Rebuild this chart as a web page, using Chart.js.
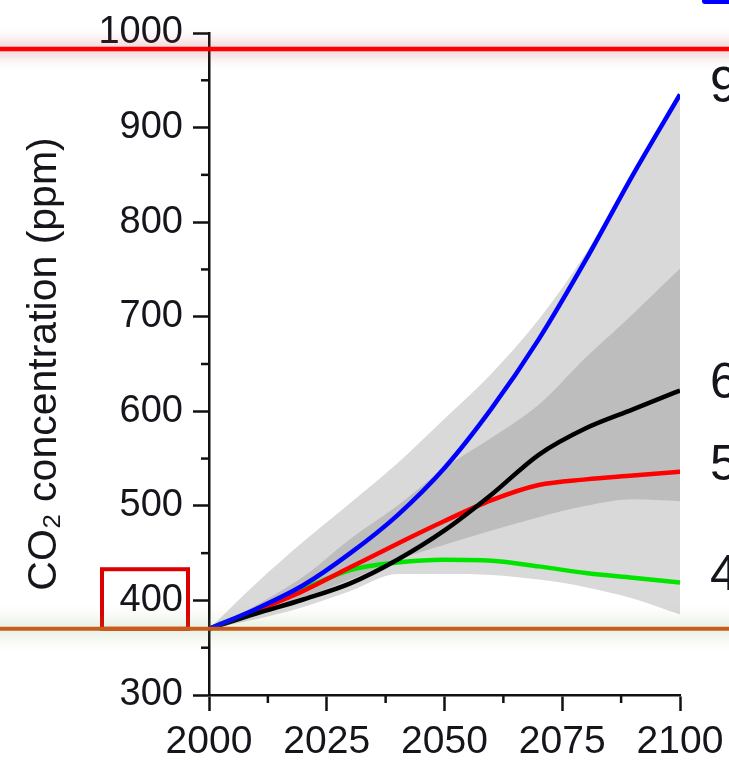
<!DOCTYPE html>
<html>
<head>
<meta charset="utf-8">
<title>CO2 concentration</title>
<script src="https://cdn.jsdelivr.net/npm/chart.js@4.4.0/dist/chart.umd.min.js"></script>
<style>
  html, body { margin: 0; padding: 0; background: #fff; }
  #wrap { width: 729px; height: 763px; }
</style>
</head>
<body>
<div id="wrap"><canvas id="myChart" width="729" height="763"></canvas></div>
<script>
// years on the x axis (every 10 years)
const years = [2000, 2010, 2020, 2030, 2040, 2050, 2060, 2070, 2080, 2090, 2100];

// scenario lines (ppm)
const rcp85 = [370, 391, 416, 450, 490, 540, 603, 676, 760, 850, 935];
const rcp60 = [370, 386, 401, 418, 443, 474, 512, 554, 582, 602, 622];
const rcp45 = [370, 389, 410, 435, 460, 484, 506, 522, 528, 532, 536];
const rcp26 = [370, 390, 412, 432, 440, 443, 442, 436, 429, 424, 419];

// shaded ranges
const lightUpper = [370, 418, 462, 503, 545, 592, 640, 697, 767, 852, 936];
const lightLower = [370, 380, 393, 410, 428, 428, 427, 422, 414, 402, 385];
const darkUpper  = [370, 395, 425, 465, 500, 540, 572, 607, 657, 703, 751];
const darkLower  = [370, 387, 403, 422, 443, 459, 474, 488, 500, 507, 505];

// labels at the right end (cut by the picture edge)
const endLabels = ['936', '670', '538', '421'];

// ticks
const yMajor = [300, 400, 500, 600, 700, 800, 900, 1000];
const yMinor = [350, 450, 550, 650, 750, 850, 950];
const xMinor = [2012.5, 2037.5, 2062.5, 2087.5];

// highlight lines + box
const redLineValue = 983;
const orangeLineValue = 370;
const boxTopValue = 433;

const fontFam = '"Liberation Sans", Arial, Helvetica, sans-serif';
const txtColor = '#15151c';

function pts(arr) {
  return years.map(function (yr, i) { return { x: yr, y: arr[i] }; });
}

function lineSet(label, data, color) {
  return {
    label: label, data: pts(data), borderColor: color, borderWidth: 4.5,
    fill: false, pointRadius: 0, order: 0
  };
}

function bandSet(data, color, fill, order) {
  return {
    data: pts(data), borderWidth: 0, borderColor: 'rgba(0,0,0,0)',
    backgroundColor: color, fill: fill, pointRadius: 0, order: order
  };
}

const datasets = [
  lineSet('RCP8.5', rcp85, '#0000ff'),
  lineSet('RCP6.0', rcp60, '#000000'),
  lineSet('RCP4.5', rcp45, '#ff0000'),
  lineSet('RCP2.6', rcp26, '#00e400'),
  bandSet(darkUpper, '#bdbdbd', '+1', 1),
  bandSet(darkLower, '#bdbdbd', false, 1),
  bandSet(lightUpper, '#d9d9d9', '+1', 2),
  bandSet(lightLower, '#d9d9d9', false, 2)
];

// minor ticks, right labels, highlight lines
const extras = {
  id: 'extras',
  afterDraw: function (chart) {
    const ctx = chart.ctx;
    const xs = chart.scales.x, ys = chart.scales.y;
    const area = chart.chartArea;
    ctx.save();

    // minor ticks
    ctx.strokeStyle = '#111';
    ctx.lineWidth = 2.5;
    yMinor.forEach(function (v) {
      const py = ys.getPixelForValue(v);
      ctx.beginPath();
      ctx.moveTo(area.left - 8, py);
      ctx.lineTo(area.left, py);
      ctx.stroke();
    });
    xMinor.forEach(function (v) {
      const px = xs.getPixelForValue(v);
      ctx.beginPath();
      ctx.moveTo(px, area.bottom);
      ctx.lineTo(px, area.bottom + 8);
      ctx.stroke();
    });

    // end labels
    ctx.fillStyle = txtColor;
    ctx.font = '50px ' + fontFam;
    ctx.textBaseline = 'middle';
    ctx.textAlign = 'left';
    for (let i = 0; i < 4; i++) {
      const d = chart.data.datasets[i].data;
      const last = d[d.length - 1].y;
      ctx.fillText(endLabels[i], area.right + 30, ys.getPixelForValue(last) - 6);
    }

    // legend fragment at the top right
    ctx.strokeStyle = chart.data.datasets[0].borderColor;
    ctx.lineWidth = 6;
    ctx.lineCap = 'round';
    ctx.beginPath();
    ctx.moveTo(area.right + 25, 1);
    ctx.lineTo(chart.width + 10, 1);
    ctx.stroke();
    ctx.lineCap = 'butt';

    // red box round the 400 label
    const bTop = ys.getPixelForValue(boxTopValue);
    const bBot = ys.getPixelForValue(orangeLineValue);
    ctx.strokeStyle = '#dd0000';
    ctx.lineWidth = 4;
    ctx.strokeRect(area.left - 107, bTop, 86, bBot - bTop);

    // red line with pink glow
    let py = ys.getPixelForValue(redLineValue);
    ctx.shadowColor = 'rgba(200,60,70,0.8)';
    ctx.shadowBlur = 16;
    ctx.strokeStyle = '#ff0000';
    ctx.lineWidth = 4.5;
    ctx.beginPath();
    ctx.moveTo(-20, py);
    ctx.lineTo(chart.width + 20, py);
    ctx.stroke();

    // orange line with green glow
    py = ys.getPixelForValue(orangeLineValue);
    ctx.shadowColor = 'rgba(110,160,80,0.75)';
    ctx.shadowBlur = 18;
    ctx.strokeStyle = '#c65d1a';
    ctx.lineWidth = 4;
    ctx.beginPath();
    ctx.moveTo(-20, py);
    ctx.lineTo(chart.width + 20, py);
    ctx.stroke();

    ctx.restore();
  }
};

const ctx = document.getElementById('myChart');
const chart = new Chart(ctx, {
  type: 'line',
  data: { datasets: datasets },
  options: {
    responsive: false,
    animation: false,
    layout: { padding: { top: 33, right: 49, left: 0, bottom: 0 } },
    plugins: { legend: { display: false }, tooltip: { enabled: false } },
    elements: { line: { cubicInterpolationMode: 'monotone' } },
    scales: {
      x: {
        type: 'linear', min: 2000, max: 2100,
        border: { color: '#111', width: 2.5 },
        grid: { drawOnChartArea: false, tickLength: 16, tickWidth: 2.5, tickColor: '#111' },
        ticks: {
          stepSize: 25, padding: 5, maxRotation: 0, color: txtColor,
          font: { family: fontFam, size: 39, lineHeight: 1.35 },
          callback: function (v) { return String(v); }
        },
        afterFit: function (s) { s.height = 68; }
      },
      y: {
        min: 300, max: 1000,
        border: { color: '#111', width: 2.5 },
        grid: { drawOnChartArea: false, tickLength: 16, tickWidth: 2.5, tickColor: '#111' },
        ticks: {
          stepSize: 100, padding: 10, color: txtColor,
          font: { family: fontFam, size: 38 },
          callback: function (v) { return yMajor.indexOf(v) >= 0 ? String(v) : ''; }
        },
        title: {
          display: true, text: 'CO\u2082 concentration (ppm)', color: txtColor,
          font: { family: fontFam, size: 41 }, padding: { top: 20, bottom: 0 }
        },
        afterFit: function (s) { s.width = 209; }
      }
    }
  },
  plugins: [extras]
});
</script>
</body>
</html>
